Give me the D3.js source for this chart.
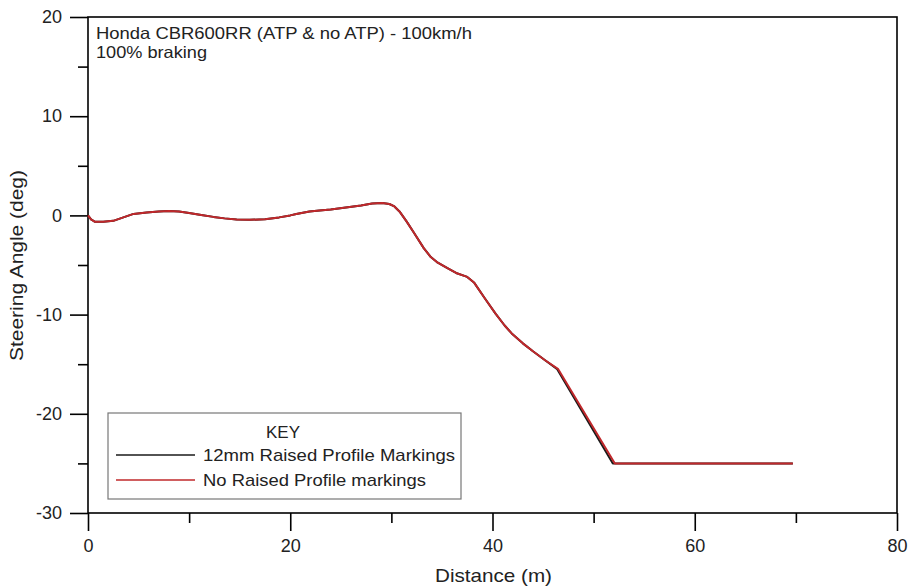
<!DOCTYPE html>
<html>
<head>
<meta charset="utf-8">
<script src="https://cdn.jsdelivr.net/npm/d3@7"></script>
<style>
  body { margin: 0; background: #fff; }
  svg { font-family: "Liberation Sans", Arial, sans-serif; }
</style>
</head>
<body>
<div id="chart"></div>
<script>
// distance (m) vs steering angle (deg)
const redDist = [0, 0.3, 0.7, 1.5, 2.5, 3.5, 4.5, 5.8, 7, 8, 9, 10, 11.2, 12.4, 13.5, 14.7, 16, 17.5, 18.9, 20, 20.6, 21.9, 22.9, 24, 25.5, 27, 28.1, 29.1, 29.8, 30.3, 30.8, 31.5, 32.2, 33.2, 33.9, 34.5, 35.5, 36.4, 37.5, 38.2, 39.2, 40.3, 41.2, 41.9, 43, 44, 45.2, 46.5, 52.1, 69.7]
const redAngle = [0, -0.4, -0.65, -0.65, -0.55, -0.2, 0.15, 0.3, 0.4, 0.45, 0.4, 0.25, 0.05, -0.15, -0.3, -0.42, -0.45, -0.38, -0.2, 0, 0.14, 0.4, 0.5, 0.6, 0.8, 1.0, 1.2, 1.25, 1.15, 0.9, 0.4, -0.6, -1.7, -3.3, -4.2, -4.7, -5.3, -5.8, -6.2, -6.8, -8.3, -9.9, -11.1, -11.9, -12.9, -13.7, -14.6, -15.5, -25.0, -25.0]
const blackDist = [0, 0.3, 0.7, 1.5, 2.5, 3.5, 4.5, 5.8, 7, 8, 9, 10, 11.2, 12.4, 13.5, 14.7, 16, 17.5, 18.9, 20, 20.6, 21.9, 22.9, 24, 25.5, 27, 28.1, 29.1, 29.8, 30.3, 30.8, 31.5, 32.2, 33.2, 33.9, 34.5, 35.5, 36.4, 37.5, 38.2, 39.2, 40.3, 41.2, 41.9, 43, 44, 45.2, 46.4, 51.9, 69.7]
const blackAngle = [0, -0.4, -0.65, -0.65, -0.55, -0.2, 0.15, 0.3, 0.4, 0.45, 0.4, 0.25, 0.05, -0.15, -0.3, -0.42, -0.45, -0.38, -0.2, 0, 0.14, 0.4, 0.5, 0.6, 0.8, 1.0, 1.2, 1.25, 1.15, 0.9, 0.4, -0.6, -1.7, -3.3, -4.2, -4.7, -5.3, -5.8, -6.2, -6.8, -8.3, -9.9, -11.1, -11.9, -12.9, -13.7, -14.6, -15.5, -25.0, -25.0]

const xMajor = [0, 20, 40, 60, 80]
const xMinor = [10, 30, 50, 70]
const yMajor = [20, 10, 0, -10, -20, -30]
const yMinor = [15, 5, -5, -15, -25]

const seriesNames = ['12mm Raised Profile Markings', 'No Raised Profile markings']
const seriesColors = ['#1a1a1a', '#c0282b']

const width = 913
const height = 587
const margin = { top: 17, right: 14, bottom: 74, left: 88 }

const svg = d3.select('#chart')
  .append('svg')
  .attr('width', width)
  .attr('height', height)

const x = d3.scaleLinear().domain([0, 80]).range([margin.left, width - margin.right - 2])
const y = d3.scaleLinear().domain([-30, 20]).range([height - margin.bottom, margin.top])

// frame
svg.append('rect')
  .attr('x', x(0))
  .attr('y', y(20))
  .attr('width', x(80) - x(0))
  .attr('height', y(-30) - y(20))
  .attr('fill', 'none')
  .attr('stroke', '#000')
  .attr('stroke-width', 1.6)

const styleAxis = g => {
  g.select('.domain').remove()
  g.selectAll('.tick line').attr('stroke', '#000').attr('stroke-width', 1.6)
  g.selectAll('.tick text').attr('fill', '#222').style('font-size', '18px')
}

const plain = d => String(d)

svg.append('g')
  .attr('transform', `translate(0,${y(-30)})`)
  .call(d3.axisBottom(x).tickValues(xMajor).tickSize(18).tickPadding(8).tickFormat(plain))
  .call(styleAxis)

svg.append('g')
  .attr('transform', `translate(0,${y(-30)})`)
  .call(d3.axisBottom(x).tickValues(xMinor).tickSize(10).tickFormat(''))
  .call(styleAxis)

svg.append('g')
  .attr('transform', `translate(${x(0)},0)`)
  .call(d3.axisLeft(y).tickValues(yMajor).tickSize(18).tickPadding(8).tickFormat(plain))
  .call(styleAxis)

svg.append('g')
  .attr('transform', `translate(${x(0)},0)`)
  .call(d3.axisLeft(y).tickValues(yMinor).tickSize(10).tickFormat(''))
  .call(styleAxis)

// wide-set label text
const label = (sel, len) => sel.attr('textLength', len).attr('lengthAdjust', 'spacingAndGlyphs')

// axis titles
svg.append('text')
  .attr('x', 435)
  .attr('y', 582)
  .attr('fill', '#222')
  .style('font-size', '18.5px')
  .text('Distance (m)')
  .call(label, 117)

svg.append('text')
  .attr('transform', `translate(23,361) rotate(-90)`)
  .attr('fill', '#222')
  .style('font-size', '18.5px')
  .text('Steering Angle (deg)')
  .call(label, 191)

// annotation
svg.append('text')
  .attr('x', 96)
  .attr('y', 39)
  .attr('fill', '#222')
  .style('font-size', '16.5px')
  .text('Honda CBR600RR (ATP & no ATP) - 100km/h')
  .call(label, 376)

svg.append('text')
  .attr('x', 96)
  .attr('y', 58)
  .attr('fill', '#222')
  .style('font-size', '16.5px')
  .text('100% braking')
  .call(label, 111)

// lines
const line = d3.line().x(d => x(d[0])).y(d => y(d[1]))

const series = [
  d3.zip(blackDist, blackAngle),
  d3.zip(redDist, redAngle)
]

svg.selectAll('path.series')
  .data(series)
  .enter()
  .append('path')
  .attr('class', 'series')
  .attr('d', line)
  .attr('fill', 'none')
  .attr('stroke', (d, i) => seriesColors[i])
  .attr('stroke-width', 2)
  .attr('stroke-linejoin', 'round')

// key
const key = svg.append('g')
key.append('rect')
  .attr('x', 108)
  .attr('y', 413)
  .attr('width', 353)
  .attr('height', 86)
  .attr('fill', '#fff')
  .attr('stroke', '#777')
  .attr('stroke-width', 1.2)

key.append('text')
  .attr('x', 266)
  .attr('y', 438)
  .attr('fill', '#222')
  .style('font-size', '16.5px')
  .text('KEY')
  .call(label, 34)

const keyWidths = [252, 223]
seriesNames.forEach((name, i) => {
  const ly = 455 + i * 25
  key.append('line')
    .attr('x1', 116)
    .attr('x2', 195)
    .attr('y1', ly)
    .attr('y2', ly)
    .attr('stroke', seriesColors[i])
    .attr('stroke-width', 1.4)
  key.append('text')
    .attr('x', 203)
    .attr('y', ly + 6)
    .attr('fill', '#222')
    .style('font-size', '17px')
    .text(name)
    .call(label, keyWidths[i])
})
</script>
</body>
</html>
